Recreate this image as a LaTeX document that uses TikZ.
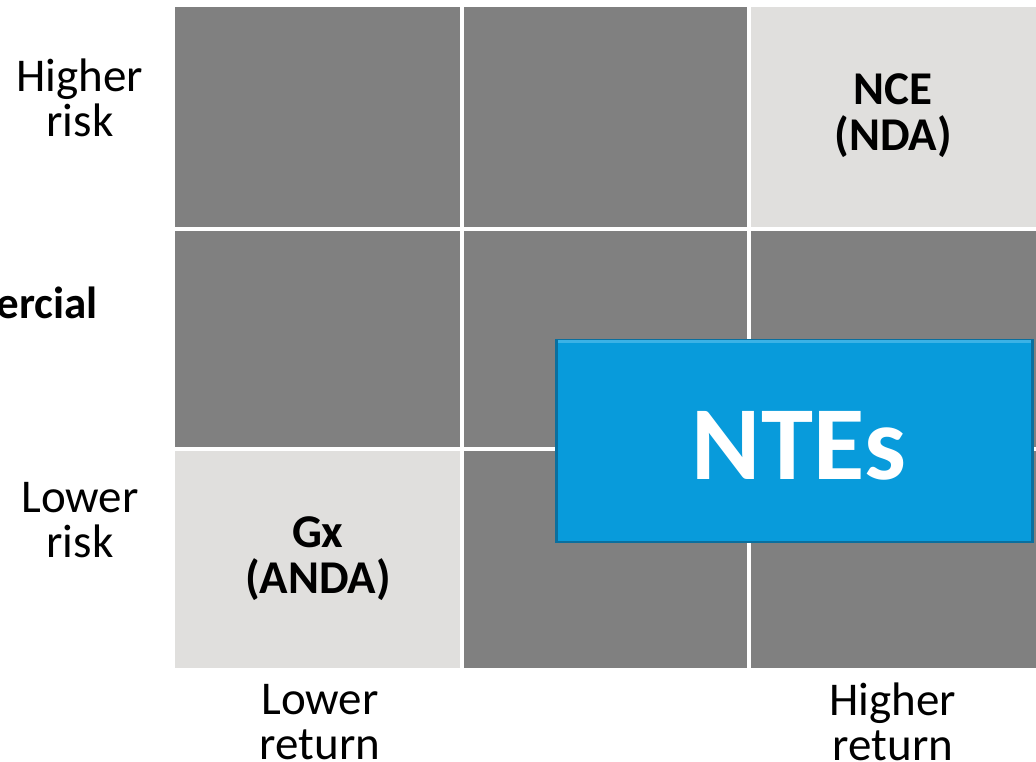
\documentclass[tikz,border=0pt]{standalone}
\usepackage{fontspec}
\setmainfont{Carlito}
\begin{document}
\begin{tikzpicture}[x=1pt,y=-1pt,
  dark/.style={fill=black!50,draw=none},
  light/.style={fill=lightcell,draw=none},
  lbl/.style={font=\fontsize{47}{45}\selectfont,align=center,text=black,inner sep=0},
  cell/.style={font=\fontsize{47}{46}\selectfont\bfseries,align=center,text=black,inner sep=0}]
\definecolor{lightcell}{HTML}{E0DFDD}
\definecolor{ntblue}{HTML}{089BDB}
\definecolor{ntdark}{HTML}{0A6F9E}
\definecolor{ntlight}{HTML}{3BB2E6}
\useasboundingbox (0,0) rectangle (1036,761);
% cells
\fill[dark] (175,7) rectangle (460,227);
\fill[dark] (464,7) rectangle (747,227);
\fill[light] (751,7) rectangle (1036,227);
\fill[dark] (175,231) rectangle (460,447);
\fill[dark] (464,231) rectangle (747,447);
\fill[dark] (751,231) rectangle (1036,447);
\fill[light] (175,451) rectangle (460,668);
\fill[dark] (464,451) rectangle (747,668);
\fill[dark] (751,451) rectangle (1036,668);
% cell texts
\node[cell] (nce) at (893,116) {NCE\\(NDA)};
\node[cell] (gx) at (318,559) {Gx\\(ANDA)};
% NTEs box
\fill[ntdark] (555,339) rectangle (1034,543);
\fill[ntblue] (558,340) rectangle (1031,541);
\fill[ntlight] (558,340) rectangle (1031,343);
\node[font=\fontsize{105}{105}\selectfont\bfseries,text=white,inner sep=0] (ntes) at (799,446) {NTEs};
% axis labels
\node[lbl] (hr) at (80,98) {Higher\\risk};
\node[lbl] (lr) at (80,520) {Lower\\risk};
\node[font=\fontsize{45}{45}\selectfont\bfseries,anchor=base east,inner sep=0] (com) at (98,318) {Commercial};
\node[lbl] (lret) at (320,722) {Lower\\return};
\node[lbl] (hret) at (893,722) {Higher\\return};
\end{tikzpicture}
\end{document}
